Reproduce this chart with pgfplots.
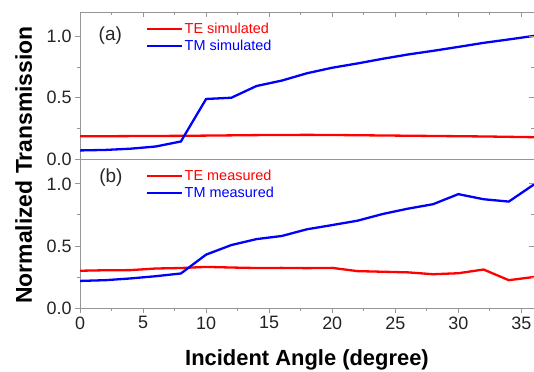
\documentclass[border=0pt]{standalone}
\usepackage{pgfplots}
\pgfplotsset{compat=1.18}
\usepackage{fontspec}
\setmainfont{Liberation Sans}
\definecolor{framegray}{RGB}{150,150,150}
\definecolor{ticktext}{RGB}{35,35,35}
\begin{document}
\begin{tikzpicture}
\pgfplotsset{
  base/.style={
    scale only axis, width=454bp,
    xmin=0, xmax=36, ymin=0, ymax=1.2,
    axis line style={framegray, line width=0.8bp},
    every tick/.style={framegray, line width=0.8bp},
    major tick length=5bp, minor tick length=3bp,
    xtick={0,5,...,35}, minor x tick num=1,
    ytick={0,0.5,1.0}, minor y tick num=1,
    /pgf/number format/assume math mode=true,
    tick label style={font=\fontsize{18}{20}\selectfont, text=ticktext},
    yticklabel style={/pgf/number format/.cd, fixed, fixed zerofill, precision=1},
    legend cell align=left,
    legend image code/.code={\draw[#1, line width=2.2bp] (0bp,0bp) -- (35bp,0bp);},
    legend style={draw=none, fill=none, inner sep=0pt, row sep=2bp,
      font=\fontsize{14.5}{16}\selectfont, anchor=north west,
      nodes={inner sep=1.5bp}},
  },
  overlayax/.style={base, tick align=inside, xtick pos=upper, ytick pos=upper,
     xticklabels={}, yticklabels={}, axis line style={draw=none}},
}
% ---------- bottom panel (b)
\begin{axis}[base, at={(0,0)}, anchor=south west, height=149bp,
  tick align=outside, xtick pos=lower, ytick pos=lower,
  legend style={at={(0.145,0.935)}}]
\addplot[red, line width=2.3bp] coordinates {
(0,0.300)(2,0.304)(4,0.305)(6,0.318)(8,0.322)(10,0.331)(12,0.326)(14,0.322)(16,0.323)(18,0.321)
(20,0.323)(22,0.297)(24,0.292)(26,0.287)(28,0.272)(30,0.280)(32,0.310)(34,0.224)(36,0.250)};
\addlegendentry{\textcolor{red}{TE measured}}
\addplot[blue, line width=2.3bp] coordinates {
(0,0.218)(2,0.224)(4,0.238)(6,0.256)(8,0.278)(10,0.430)(12,0.507)(14,0.555)(16,0.580)(18,0.634)
(20,0.668)(22,0.703)(24,0.757)(26,0.800)(28,0.836)(30,0.917)(32,0.876)(34,0.857)(36,0.995)};
\addlegendentry{\textcolor{blue}{TM measured}}
\node[font=\fontsize{19}{21}\selectfont, text=black!85] at (axis cs:2.45,1.05) {(b)};
\end{axis}
\begin{axis}[overlayax, at={(0,0)}, anchor=south west, height=149bp, xtick=\empty]
\end{axis}
% ---------- top panel (a)
\begin{axis}[base, at={(0,149bp)}, anchor=south west, height=147bp,
  tick align=outside, xtick=\empty, ytick pos=lower,
  legend style={at={(0.145,0.935)}}]
\addplot[red, line width=2.3bp] coordinates {
(0,0.185)(2,0.186)(4,0.187)(6,0.188)(8,0.189)(10,0.191)(12,0.193)(14,0.195)(16,0.196)(18,0.197)
(20,0.196)(22,0.194)(24,0.192)(26,0.190)(28,0.188)(30,0.186)(32,0.184)(34,0.181)(36,0.178)};
\addlegendentry{\textcolor{red}{TE simulated}}
\addplot[blue, line width=2.3bp] coordinates {
(0,0.070)(2,0.074)(4,0.084)(6,0.102)(8,0.143)(10,0.490)(12,0.500)(14,0.596)(16,0.640)(18,0.700)
(20,0.745)(22,0.780)(24,0.818)(26,0.853)(28,0.883)(30,0.915)(32,0.948)(34,0.976)(36,1.005)};
\addlegendentry{\textcolor{blue}{TM simulated}}
\node[font=\fontsize{19}{21}\selectfont, text=black!85] at (axis cs:2.4,1.01) {(a)};
\end{axis}
\begin{axis}[overlayax, at={(0,149bp)}, anchor=south west, height=147bp]
\end{axis}
% axis titles
\node[font=\fontsize{22}{24}\selectfont\bfseries, anchor=base] at (227bp,-57bp) {Incident Angle (degree)};
\node[font=\fontsize{23}{25}\selectfont\bfseries, anchor=base, rotate=90] at (-48bp,143bp) {Normalized Transmission};
\pgfresetboundingbox
\path (-80bp,-64bp) rectangle (454bp,308bp);
\end{tikzpicture}
\end{document}
